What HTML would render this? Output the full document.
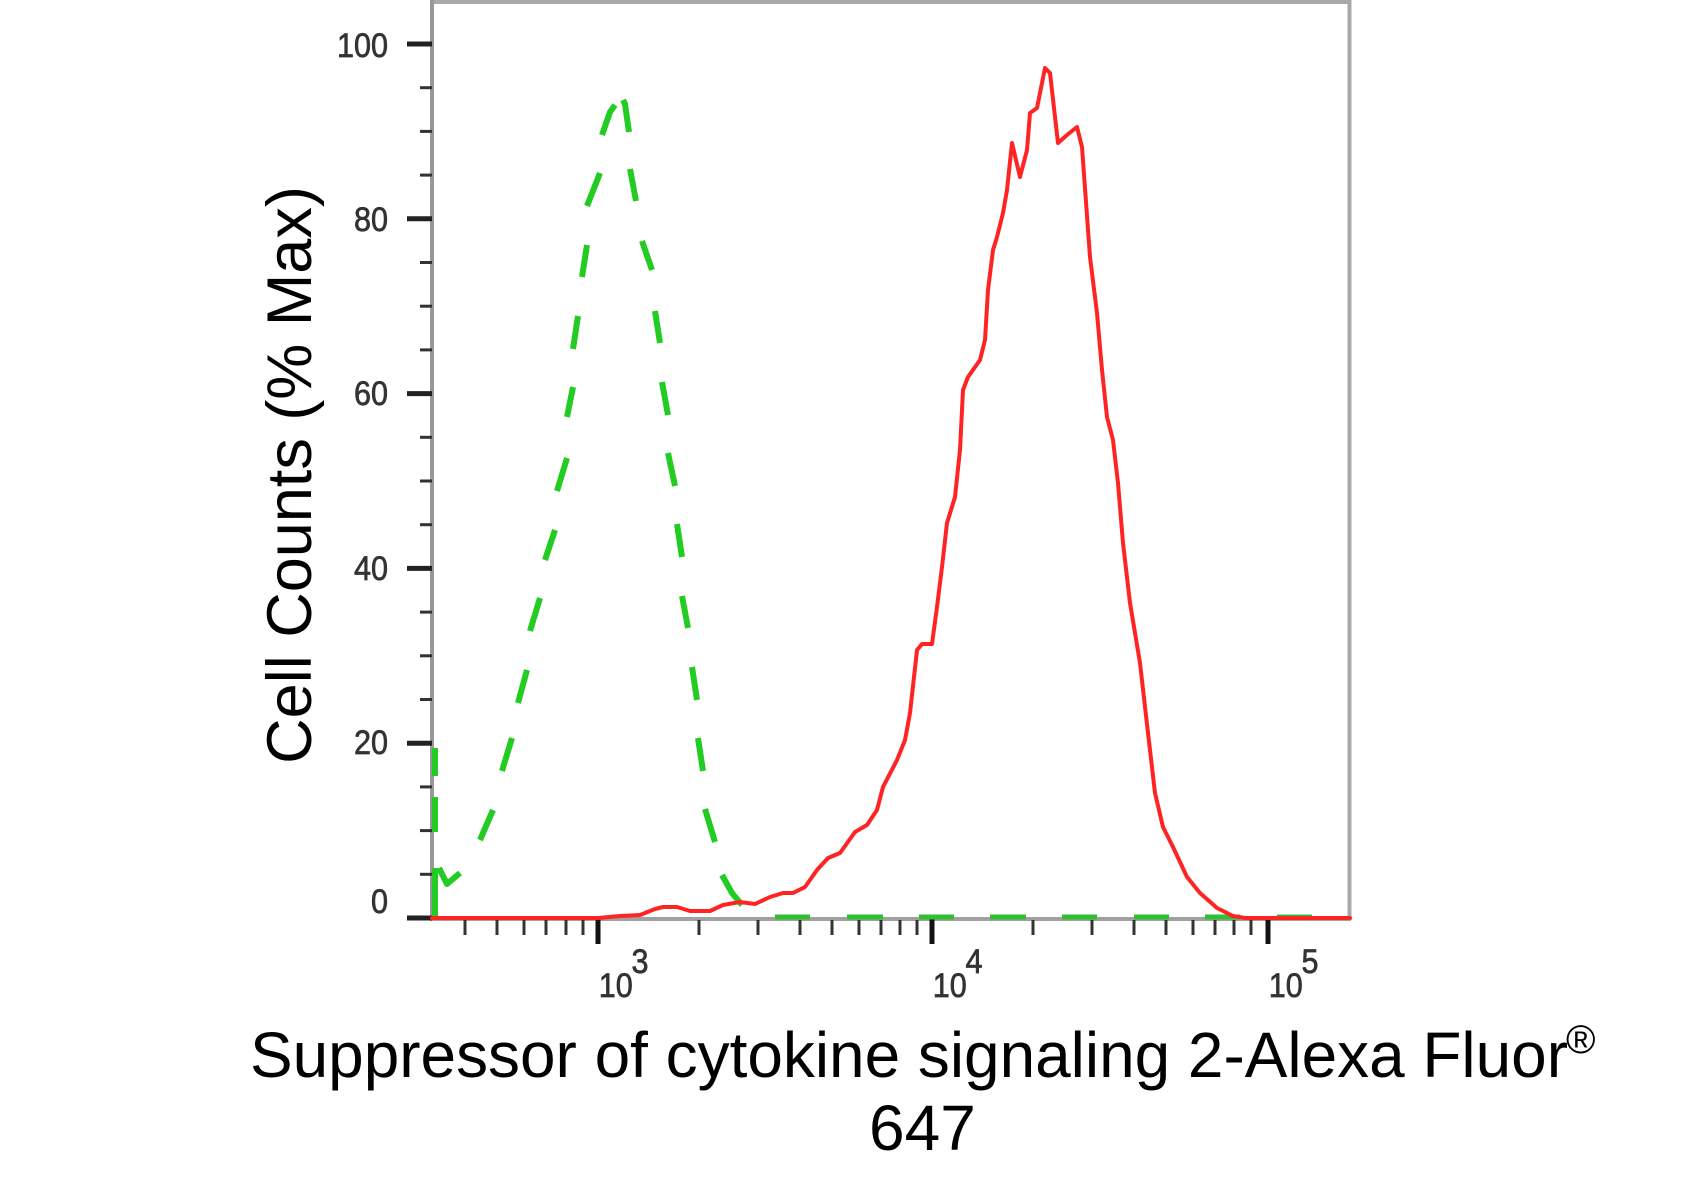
<!DOCTYPE html>
<html>
<head>
<meta charset="utf-8">
<style>
  html,body{margin:0;padding:0;background:#fff;}
  svg{display:block;}
  text{font-family:"Liberation Sans", Arial, sans-serif;}
</style>
</head>
<body>
<svg width="1688" height="1186" viewBox="0 0 1688 1186" xmlns="http://www.w3.org/2000/svg">
  <rect x="0" y="0" width="1688" height="1186" fill="#fff"/>

  <!-- frame -->
  <line x1="432" y1="2" x2="1350" y2="2" stroke="#a8a8a8" stroke-width="4"/>
  <line x1="1349.5" y1="0" x2="1349.5" y2="920" stroke="#a8a8a8" stroke-width="4"/>
  <line x1="432" y1="0" x2="432" y2="921" stroke="#999" stroke-width="4"/>
  <line x1="430" y1="919" x2="1351" y2="919" stroke="#a0a0a0" stroke-width="4"/>

  <!-- y major ticks -->
  <g stroke="#222" stroke-width="5">
    <line x1="407" y1="918" x2="432" y2="918"/>
    <line x1="407" y1="743.2" x2="432" y2="743.2"/>
    <line x1="407" y1="568.4" x2="432" y2="568.4"/>
    <line x1="407" y1="393.6" x2="432" y2="393.6"/>
    <line x1="407" y1="218.8" x2="432" y2="218.8"/>
    <line x1="407" y1="44" x2="432" y2="44"/>
  </g>
  <!-- y minor ticks -->
  <g stroke="#333" stroke-width="3">
    <line x1="420" y1="874.3" x2="432" y2="874.3"/>
    <line x1="420" y1="830.6" x2="432" y2="830.6"/>
    <line x1="420" y1="786.9" x2="432" y2="786.9"/>
    <line x1="420" y1="699.5" x2="432" y2="699.5"/>
    <line x1="420" y1="655.8" x2="432" y2="655.8"/>
    <line x1="420" y1="612.1" x2="432" y2="612.1"/>
    <line x1="420" y1="524.7" x2="432" y2="524.7"/>
    <line x1="420" y1="481" x2="432" y2="481"/>
    <line x1="420" y1="437.3" x2="432" y2="437.3"/>
    <line x1="420" y1="349.9" x2="432" y2="349.9"/>
    <line x1="420" y1="306.2" x2="432" y2="306.2"/>
    <line x1="420" y1="262.5" x2="432" y2="262.5"/>
    <line x1="420" y1="175.1" x2="432" y2="175.1"/>
    <line x1="420" y1="131.4" x2="432" y2="131.4"/>
    <line x1="420" y1="87.7" x2="432" y2="87.7"/>
  </g>

  <!-- y labels -->
  <g font-size="34" fill="#333" stroke="#333" stroke-width="0.7" text-anchor="end">
    <text transform="translate(388,57) scale(0.9,1)">100</text>
    <text transform="translate(388,231) scale(0.9,1)">80</text>
    <text transform="translate(388,405) scale(0.9,1)">60</text>
    <text transform="translate(388,580) scale(0.9,1)">40</text>
    <text transform="translate(388,754) scale(0.9,1)">20</text>
    <text transform="translate(388,913) scale(0.9,1)">0</text>
  </g>

  <!-- x major ticks -->
  <g stroke="#111" stroke-width="5">
    <line x1="598" y1="918" x2="598" y2="944"/>
    <line x1="932" y1="918" x2="932" y2="944"/>
    <line x1="1268" y1="918" x2="1268" y2="944"/>
  </g>
  <!-- x minor ticks -->
  <g stroke="#333" stroke-width="3">
    <line x1="465" y1="920" x2="465" y2="935"/>
    <line x1="497" y1="920" x2="497" y2="935"/>
    <line x1="524" y1="920" x2="524" y2="935"/>
    <line x1="546" y1="920" x2="546" y2="935"/>
    <line x1="566" y1="920" x2="566" y2="935"/>
    <line x1="583" y1="920" x2="583" y2="935"/>
    <line x1="699" y1="920" x2="699" y2="935"/>
    <line x1="758" y1="920" x2="758" y2="935"/>
    <line x1="800" y1="920" x2="800" y2="935"/>
    <line x1="832" y1="920" x2="832" y2="935"/>
    <line x1="859" y1="920" x2="859" y2="935"/>
    <line x1="881" y1="920" x2="881" y2="935"/>
    <line x1="900" y1="920" x2="900" y2="935"/>
    <line x1="917" y1="920" x2="917" y2="935"/>
    <line x1="1033" y1="920" x2="1033" y2="935"/>
    <line x1="1092" y1="920" x2="1092" y2="935"/>
    <line x1="1134" y1="920" x2="1134" y2="935"/>
    <line x1="1166" y1="920" x2="1166" y2="935"/>
    <line x1="1193" y1="920" x2="1193" y2="935"/>
    <line x1="1215" y1="920" x2="1215" y2="935"/>
    <line x1="1234" y1="920" x2="1234" y2="935"/>
    <line x1="1251" y1="920" x2="1251" y2="935"/>
  </g>

  <!-- x labels -->
  <g fill="#333" stroke="#333" stroke-width="0.7" font-size="34">
    <text transform="translate(598.7,997) scale(0.9,1)">10</text>
    <text transform="translate(631.5,973) scale(0.9,1)">3</text>
    <text transform="translate(932.7,997) scale(0.9,1)">10</text>
    <text transform="translate(965.5,973) scale(0.9,1)">4</text>
    <text transform="translate(1268.7,997) scale(0.9,1)">10</text>
    <text transform="translate(1301.5,973) scale(0.9,1)">5</text>
  </g>

  <!-- green dashed curve (isotype control) -->
  <g stroke="#22cc22" stroke-width="6" fill="none" stroke-linecap="butt" stroke-linejoin="round">
    <line x1="435" y1="748" x2="435" y2="776"/>
    <line x1="435" y1="797" x2="435" y2="832"/>
    <line x1="435" y1="868" x2="435" y2="917"/>
    <polyline points="439,868 447,884 460,873"/>
    <line x1="480" y1="840" x2="493" y2="810"/>
    <line x1="502" y1="771" x2="512" y2="738"/>
    <line x1="518" y1="703" x2="527" y2="670"/>
    <line x1="530" y1="631" x2="540" y2="598"/>
    <line x1="545" y1="560" x2="555" y2="530"/>
    <line x1="557" y1="491" x2="567" y2="458"/>
    <line x1="567" y1="417" x2="573" y2="387"/>
    <line x1="573" y1="349" x2="578" y2="316"/>
    <line x1="582" y1="277" x2="587" y2="245"/>
    <line x1="587" y1="206" x2="600" y2="173"/>
    <polyline points="602,135 610,112 615,105"/>
    <polyline points="623,100 625,104 629,132"/>
    <line x1="630" y1="169" x2="636" y2="201"/>
    <line x1="642" y1="241" x2="652" y2="270"/>
    <line x1="655" y1="311" x2="660" y2="343"/>
    <line x1="662" y1="382" x2="668" y2="415"/>
    <line x1="668" y1="453" x2="675" y2="486"/>
    <line x1="677" y1="524" x2="682" y2="557"/>
    <line x1="682" y1="596" x2="688" y2="628"/>
    <line x1="692" y1="667" x2="697" y2="700"/>
    <line x1="698" y1="738" x2="703" y2="771"/>
    <line x1="705" y1="809" x2="715" y2="842"/>
    <polyline points="722,875 732,893 742,905"/>
  </g>
  <g stroke="#2fbf2f" stroke-width="5" fill="none">
    <line x1="775" y1="917" x2="810" y2="917"/>
    <line x1="847" y1="917" x2="883" y2="917"/>
    <line x1="919" y1="917" x2="954" y2="917"/>
    <line x1="990" y1="917" x2="1026" y2="917"/>
    <line x1="1062" y1="917" x2="1097" y2="917"/>
    <line x1="1134" y1="917" x2="1169" y2="917"/>
    <line x1="1205" y1="917" x2="1240" y2="917"/>
    <line x1="1277" y1="917" x2="1312" y2="917"/>
  </g>

  <!-- red curve -->
  <polyline fill="none" stroke="#ff2424" stroke-width="4" stroke-linejoin="round" stroke-linecap="round"
    points="432,918 598,918 620,916 640,915 655,909 663,907 677,907 690,911 710,911 723,905 740,902 755,904 770,897 783,893 793,893 805,887 817,870 828,858 840,853 855,832 867,825 877,810 883,787 897,760 905,740 910,713 917,650 922,644 932,644 937,607 942,567 947,523 955,497 960,450 963,390 968,377 980,360 985,340 988,290 993,250 997,237 1003,213 1007,190 1012,143 1020,177 1027,150 1030,113 1037,108 1045,68 1050,73 1058,143 1067,135 1077,127 1082,147 1090,257 1097,313 1102,370 1107,417 1113,440 1118,483 1123,543 1130,603 1140,663 1148,733 1155,793 1163,827 1173,847 1187,877 1200,893 1217,908 1233,916 1245,918 1350,918"/>

  <!-- axis titles -->
  <text transform="translate(311,475) rotate(-90)" text-anchor="middle" font-size="63" fill="#000">Cell Counts (% Max)</text>
  <text x="250" y="1077" font-size="64" fill="#000" textLength="1318" lengthAdjust="spacingAndGlyphs">Suppressor of cytokine signaling 2-Alexa Fluor</text>
  <text x="1566" y="1053" font-size="40" fill="#000">®</text>
  <text x="869" y="1150" font-size="64" fill="#000">647</text>
</svg>
</body>
</html>
